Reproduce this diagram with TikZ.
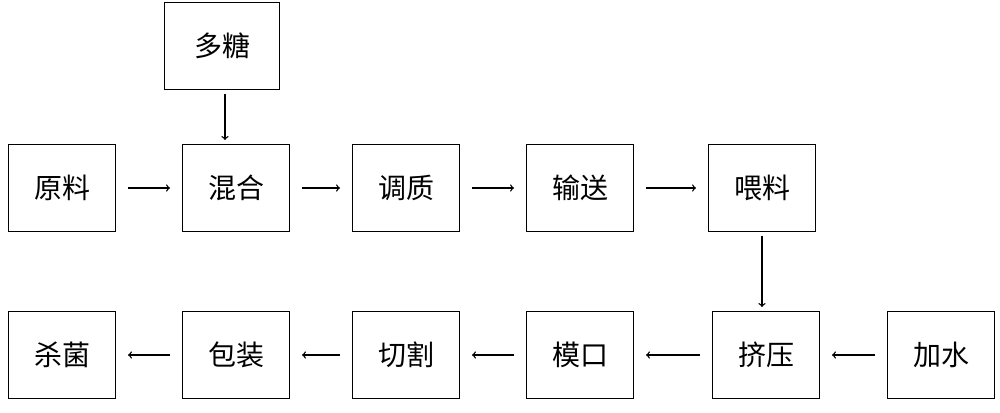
\documentclass[tikz,border=0pt]{standalone}
\usepackage{fontspec}
\setmainfont{Noto Sans CJK SC}
\usetikzlibrary{arrows}
\begin{document}
\begin{tikzpicture}[x=0.75pt,y=0.75pt,
  box/.style={draw,line width=1pt,minimum width=80pt,minimum height=65pt,font=\fontsize{21}{21}\selectfont},
  flow/.style={->,>=to,line width=1pt,shorten <=9pt,shorten >=9pt}]
\useasboundingbox (0,0) rectangle (1000,-413);

% oberste reihe
\node[box,minimum width=86pt] (duotang) at (222,-46) {多糖};
\node[box] (yuanliao) at (62,-188) {原料};
\node[box] (hunhe) at (236,-188) {混合};
\node[box] (tiaozhi) at (406,-188) {调质};
\node[box] (shusong) at (580,-188) {输送};
\node[box] (weiliao) at (762,-188) {喂料};

% untere reihe
\node[box] (shajun) at (62,-355) {杀菌};
\node[box] (baozhuang) at (236,-355) {包装};
\node[box] (qiege) at (406,-355) {切割};
\node[box] (mokou) at (580,-355) {模口};
\node[box] (jiya) at (766,-355) {挤压};
\node[box] (jiashui) at (941,-355) {加水};

% pfeile
\draw[flow,shorten <=3pt,shorten >=3pt] (duotang.south -| 225,0) -- (hunhe.north -| 225,0);
\draw[flow] (yuanliao) -- (hunhe);
\draw[flow] (hunhe) -- (tiaozhi);
\draw[flow] (tiaozhi) -- (shusong);
\draw[flow] (shusong) -- (weiliao);
\draw[flow,shorten <=3pt,shorten >=3pt] (weiliao.south) -- (weiliao.south |- jiya.north);
\draw[flow] (jiashui) -- (jiya);
\draw[flow] (jiya) -- (mokou);
\draw[flow] (mokou) -- (qiege);
\draw[flow] (qiege) -- (baozhuang);
\draw[flow] (baozhuang) -- (shajun);
\end{tikzpicture}
\end{document}
